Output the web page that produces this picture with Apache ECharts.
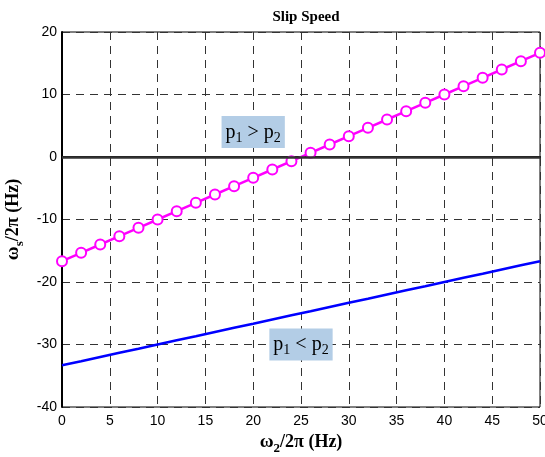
<!DOCTYPE html>
<html>
<head>
<meta charset="utf-8">
<script src="https://cdn.jsdelivr.net/npm/echarts@6/dist/echarts.min.js"></script>
<style>
  html, body { margin: 0; padding: 0; background: #fff; }
  #chart { width: 545px; height: 457px; }
</style>
</head>
<body>
<div id="chart"></div>
<script>
// data
const xValues = [0, 2, 4, 6, 8, 10, 12, 14, 16, 18, 20, 22, 24, 26, 28, 30, 32, 34, 36, 38, 40, 42, 44, 46, 48, 50];
const slipGreater = [-16.67, -15.33, -14.0, -12.67, -11.33, -10.0, -8.67, -7.33, -6.0, -4.67, -3.33, -2.0, -0.67,
  0.67, 2.0, 3.33, 4.67, 6.0, 7.33, 8.67, 10.0, 11.33, 12.67, 14.0, 15.33, 16.67];
const slipLess = [-33.33, -32.67, -32.0, -31.33, -30.67, -30.0, -29.33, -28.67, -28.0, -27.33, -26.67, -26.0, -25.33,
  -24.67, -24.0, -23.33, -22.67, -22.0, -21.33, -20.67, -20.0, -19.33, -18.67, -18.0, -17.33, -16.67];
const xTicks = { min: 0, max: 50, step: 5 };
const yTicks = { min: -40, max: 20, step: 10 };
const annotations = [
  { x: 20, y: 4, text: '{p|p}{s|1}{p| > p}{s|2}' },
  { x: 25, y: -30, text: '{p|p}{s|1}{p| < p}{s|2}' }
];

const chart = echarts.init(document.getElementById('chart'));

const gridLine = { show: true, lineStyle: { color: '#333', width: 1, type: [8, 6] } };
const tickFont = { color: '#000', fontFamily: 'Liberation Sans, Arial', fontSize: 14 };
const serifBold = 'Liberation Serif, Times New Roman, serif';

const boxRich = {
  p: { fontFamily: serifBold, fontSize: 20, color: '#000' },
  s: { fontFamily: serifBold, fontSize: 14, color: '#000', padding: [11, 0, 0, 0] }
};
const nameRich = {
  w: { fontFamily: serifBold, fontSize: 19, fontWeight: 'bold', color: '#000' },
  s: { fontFamily: serifBold, fontSize: 13, fontWeight: 'bold', color: '#000', padding: [12, 0, 0, 0] },
  t: { fontFamily: serifBold, fontSize: 18, fontWeight: 'bold', color: '#000' }
};

chart.setOption({
  animation: false,
  title: {
    text: 'Slip Speed',
    left: 301,
    textAlign: 'center',
    top: 5,
    textStyle: { fontFamily: serifBold, fontSize: 15, fontWeight: 'bold', color: '#000' }
  },
  grid: {
    left: 62, right: 5, top: 32, bottom: 50,
    outerBoundsMode: 'none',
    show: true, borderColor: '#000', borderWidth: 1
  },
  xAxis: {
    type: 'value',
    min: xTicks.min, max: xTicks.max, interval: xTicks.step,
    axisLine: { show: true, lineStyle: { color: '#000', width: 2 } },
    axisTick: { show: false },
    axisLabel: Object.assign({ margin: 7 }, tickFont),
    splitLine: gridLine,
    name: '{w|ω}{s|2}{t|/2π (Hz)}',
    nameLocation: 'middle',
    nameGap: 22,
    nameTextStyle: { rich: nameRich }
  },
  yAxis: {
    type: 'value',
    min: yTicks.min, max: yTicks.max, interval: yTicks.step,
    axisLine: { show: true, lineStyle: { color: '#000', width: 2 } },
    axisTick: { show: false },
    axisLabel: Object.assign({ margin: 5 }, tickFont),
    splitLine: gridLine,
    name: '{w|ω}{s|s}{t|/2π (Hz)}',
    nameLocation: 'middle',
    nameGap: 36,
    nameRotate: 90,
    nameTextStyle: { rich: nameRich }
  },
  series: [
    {
      type: 'line',
      data: xValues.map((x, i) => [x, slipLess[i]]),
      showSymbol: false,
      lineStyle: { color: '#0000ff', width: 2.5 },
      z: 3,
      markLine: {
        silent: true,
        symbol: 'none',
        label: { show: false },
        lineStyle: { color: '#333', width: 2.5, type: 'solid' },
        data: [{ yAxis: 0 }]
      }
    },
    {
      type: 'line',
      data: xValues.map((x, i) => [x, slipGreater[i]]),
      symbol: 'emptyCircle',
      symbolSize: 10,
      itemStyle: { color: '#ff00ff', borderColor: '#ff00ff', borderWidth: 2 },
      lineStyle: { color: '#ff00ff', width: 2.5 },
      z: 4
    },
    {
      type: 'scatter',
      data: annotations.map(a => [a.x, a.y, a.text]),
      symbolSize: 0,
      itemStyle: { opacity: 1 },
      z: 5,
      label: {
        show: true,
        position: 'inside',
        color: '#000',
        opacity: 1,
        textBorderWidth: 0,
        formatter: p => p.data[2],
        backgroundColor: '#b3cde6',
        padding: [4, 4, 3, 4],
        rich: boxRich
      }
    }
  ]
});
</script>
</body>
</html>
